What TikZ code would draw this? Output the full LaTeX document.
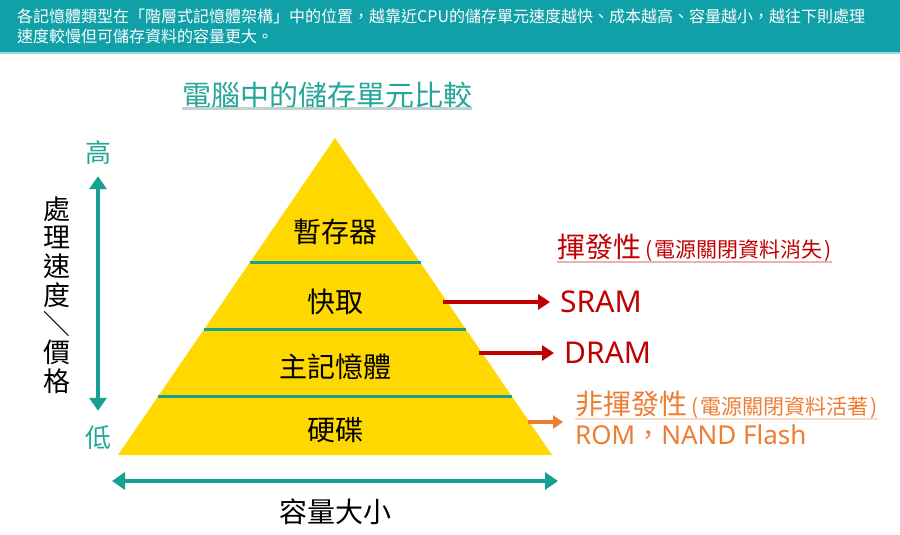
\documentclass[tikz,border=0pt]{standalone}
\usepackage{fontspec}
\setmainfont{Noto Sans CJK TC}
\newfontfamily\latinfont{Noto Sans}
\usetikzlibrary{positioning,calc,arrows.meta}

\definecolor{headteal}{RGB}{16,160,168}
\definecolor{lineteal}{RGB}{22,160,148}
\definecolor{titleteal}{RGB}{38,166,154}
\definecolor{pyryellow}{RGB}{255,216,0}
\definecolor{volred}{RGB}{192,0,0}
\definecolor{nvorange}{RGB}{237,125,49}

\newcommand{\aside}[1]{\hspace{4pt}{\fontsize{21}{21}\selectfont(\hspace{2pt}#1\hspace{2pt})}}

\tikzset{
  headtext/.style={inner sep=0pt, text=white, align=left, font=\fontsize{16}{20}\selectfont},
  titletext/.style={inner sep=0pt, text=titleteal, font=\fontsize{29}{29}\selectfont},
  titleline/.style={draw=titleteal!30!gray!40, line width=2.5pt},
  pyramid/.style={fill=pyryellow},
  layerline/.style={draw=lineteal, line width=3pt},
  layer/.style={inner sep=0pt, text=black, font=\fontsize{28}{28}\selectfont},
  hilo/.style={inner sep=0pt, text=titleteal, font=\fontsize{26}{26}\selectfont},
  sidetext/.style={inner sep=0pt, text=black, align=center, font=\fontsize{27}{28.7}\selectfont},
  tealarrow/.style={draw=lineteal, line width=3.5pt, {Triangle[length=13pt,width=17pt]}-{Triangle[length=13pt,width=17pt]}},
  voltitle/.style={inner sep=0pt, text=volred, font=\fontsize{28}{28}\selectfont},
  volline/.style={draw=volred!30, line width=2pt},
  vollabel/.style={inner ysep=0pt, inner xsep=10pt, text=volred, font=\latinfont\fontsize{30}{30}\selectfont},
  volarrow/.style={draw=volred, line width=4pt, -{Triangle[length=12pt,width=15pt]}},
  nvtitle/.style={inner sep=0pt, text=nvorange, font=\fontsize{28}{28}\selectfont},
  nvline/.style={draw=nvorange!30, line width=2pt},
  nvlabel/.style={inner sep=0pt, text=nvorange, font=\fontsize{26}{26}\selectfont},
  nvarrow/.style={draw=nvorange, line width=3.5pt, -{Triangle[length=10pt,width=13pt]}}
}

\begin{document}
\begin{tikzpicture}[x=1pt,y=-1pt]
  \fill[white] (0,0) rectangle (900,535);
  \useasboundingbox (0,0) rectangle (900,535);

  \fill[headteal] (0,0) rectangle (900,52);
  \draw[headteal!40, line width=2pt] (0,53) -- (900,53);
  \node[headtext, anchor=north west] (Head) at (17,9) {各記憶體類型在「階層式記憶體架構」中的位置，越靠近CPU的儲存單元速度越快、成本越高、容量越小，越往下則處理\\速度較慢但可儲存資料的容量更大。};

  \node[titletext] (Title) at (327,95) {電腦中的儲存單元比較};
  \draw[titleline] (Title.south west) -- (Title.south east);

  \coordinate (Top) at (335,138);
  \coordinate (BL) at (118,455);
  \coordinate (BR) at (552,455);
  \fill[pyramid] (Top) -- (BL) -- (BR) -- cycle;

  \draw[layerline] ($(Top)!0.394!(BL)$) -- ($(Top)!0.394!(BR)$);
  \draw[layerline] ($(Top)!0.603!(BL)$) -- ($(Top)!0.603!(BR)$);
  \draw[layerline] ($(Top)!0.817!(BL)$) -- ($(Top)!0.817!(BR)$);

  \node[layer] (Reg) at (335,232) {暫存器};
  \node[layer] (Cache) at (335,302) {快取};
  \node[layer] (Mem) at (335,367) {主記憶體};
  \node[layer] (Disk) at (335,430) {硬碟};

  \node[voltitle, anchor=west] (Vol) at (557,248) {揮發性\aside{電源關閉資料消失}};
  \draw[volline] (Vol.south west) -- (Vol.south east);
  \node[vollabel, anchor=west] (SRAM) at (550,302) {SRAM};
  \node[vollabel, anchor=west] (DRAM) at (554,353) {DRAM};
  \coordinate (SrcS) at (443,302);
  \coordinate (SrcD) at (479,353);
  \draw[volarrow] (SrcS) -- (SRAM);
  \draw[volarrow] (SrcD) -- (DRAM);

  \node[nvtitle, anchor=west] (NonVol) at (575,405) {非揮發性\aside{電源關閉資料活著}};
  \draw[nvline] (NonVol.south west) -- (NonVol.south east);
  \node[nvlabel, below right = 6pt and 0pt of NonVol.south west] (ROM) {{\latinfont ROM}，{\latinfont NAND Flash}};
  \coordinate (SrcN) at (528,422);
  \coordinate (DstN) at (563,422);
  \draw[nvarrow] (SrcN) -- (DstN);

  \node[hilo] (Hi) at (98,153) {高};
  \node[hilo] (Lo) at (98,438) {低};
  \draw[tealarrow, shorten <=11pt, shorten >=15pt] (Hi) -- (Lo);
  \node[sidetext] (Speed) at (57,295) {處\\理\\速\\度\\\rotatebox[origin=c]{-90}{／}\\價\\格};

  \coordinate (CapL) at (112,481);
  \coordinate (CapR) at (558,481);
  \draw[tealarrow] (CapL) -- (CapR);
  \node[layer] (Cap) at (335,512) {容量大小};

\end{tikzpicture}
\end{document}
